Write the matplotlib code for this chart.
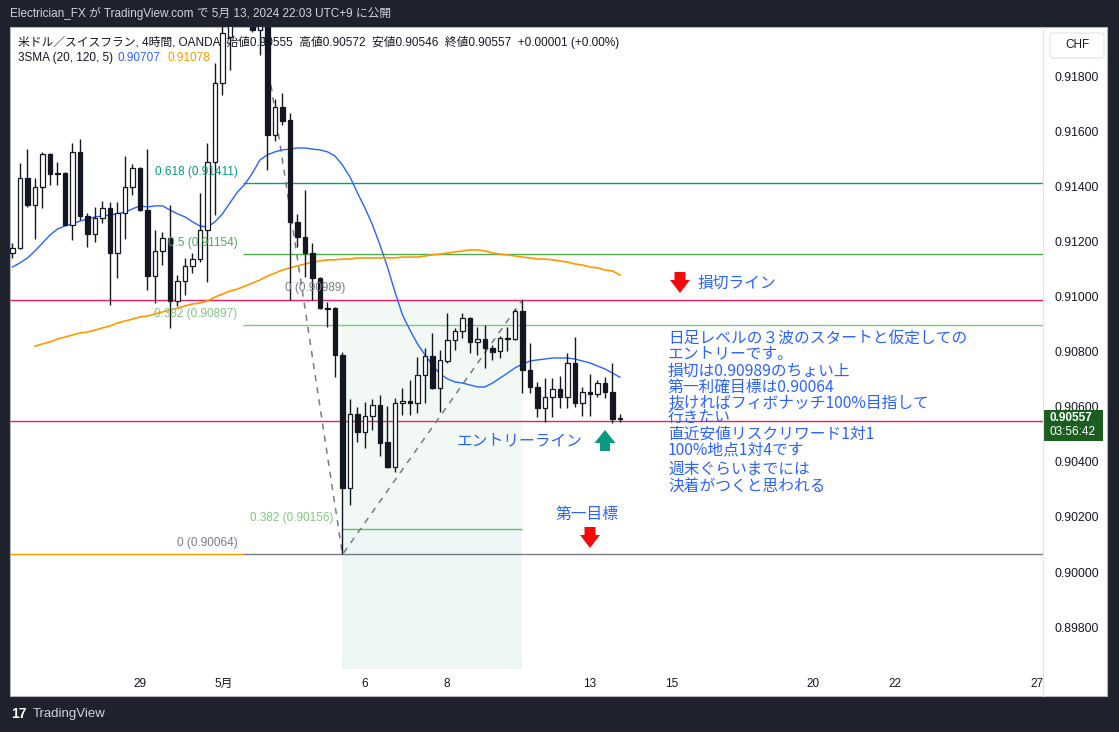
import numpy as np
import matplotlib.pyplot as plt
from matplotlib.patches import Rectangle, Polygon, FancyBboxPatch

plt.rcParams['font.family'] = ['Liberation Sans', 'Noto Sans CJK JP']
JP = ['Noto Sans CJK JP', 'Liberation Sans']

W, H = 1119, 732

# USD/CHF 4H candles
opens = [0.91158, 0.91176, 0.91430, 0.91332, 0.91398, 0.91517, 0.91448, 0.91448, 0.91260, 0.91525,
         0.91292, 0.91227, 0.91285, 0.91321, 0.91158, 0.91303, 0.91398, 0.91467, 0.91314, 0.91074,
         0.91165, 0.91212, 0.90984, 0.91056, 0.91111, 0.91136, 0.91241, 0.91488, 0.91775, 0.91942,
         0.92030, 0.92085, 0.92047, 0.91967, 0.92011, 0.91586, 0.91688, 0.91641, 0.91271, 0.91216,
         0.91158, 0.91067, 0.90958, 0.90958, 0.90788, 0.90305, 0.90574, 0.90508, 0.90566, 0.90606,
         0.90472, 0.90381, 0.90613, 0.90621, 0.90613, 0.90715, 0.90784, 0.90668, 0.90766, 0.90842,
         0.90875, 0.90922, 0.90835, 0.90846, 0.90813, 0.90802, 0.90849, 0.90846, 0.90947, 0.90733,
         0.90672, 0.90595, 0.90635, 0.90664, 0.90635, 0.90759, 0.90613, 0.90653, 0.90646, 0.90686,
         0.90653, 0.90555]
highs = [0.91194, 0.91485, 0.91535, 0.91430, 0.91525, 0.91521, 0.91488, 0.91452, 0.91557, 0.91572,
         0.91303, 0.91325, 0.91347, 0.91343, 0.91343, 0.91510, 0.91481, 0.91470, 0.91535, 0.91241,
         0.91234, 0.91332, 0.91078, 0.91140, 0.91158, 0.91376, 0.91557, 0.91848, 0.92004, 0.92058,
         0.92110, 0.92120, 0.92069, 0.92033, 0.92022, 0.91717, 0.91739, 0.91666, 0.91300, 0.91387,
         0.91194, 0.91070, 0.90980, 0.90962, 0.90799, 0.90628, 0.90599, 0.90617, 0.90628, 0.90643,
         0.90603, 0.90632, 0.90668, 0.90697, 0.90780, 0.90813, 0.90868, 0.90806, 0.90940, 0.90886,
         0.90940, 0.90926, 0.90889, 0.90897, 0.90824, 0.90857, 0.90889, 0.90955, 0.90989, 0.90831,
         0.90690, 0.90704, 0.90704, 0.90711, 0.90795, 0.90853, 0.90672, 0.90719, 0.90697, 0.90708,
         0.90759, 0.90572]
lows = [0.91140, 0.91172, 0.91325, 0.91209, 0.91321, 0.91405, 0.91405, 0.91258, 0.91205, 0.91278,
        0.91180, 0.91198, 0.91267, 0.90969, 0.91067, 0.91209, 0.91369, 0.91310, 0.91024, 0.90976,
        0.91114, 0.90886, 0.90966, 0.91006, 0.91085, 0.91125, 0.91053, 0.91296, 0.91732, 0.91822,
        0.92000, 0.92010, 0.91960, 0.91877, 0.91459, 0.91565, 0.91623, 0.90987, 0.91180, 0.91071,
        0.90987, 0.90955, 0.90889, 0.90708, 0.90064, 0.90243, 0.90472, 0.90450, 0.90515, 0.90421,
        0.90379, 0.90363, 0.90570, 0.90570, 0.90577, 0.90613, 0.90665, 0.90581, 0.90759, 0.90806,
        0.90849, 0.90795, 0.90788, 0.90741, 0.90770, 0.90777, 0.90802, 0.90842, 0.90650, 0.90650,
        0.90563, 0.90545, 0.90563, 0.90595, 0.90595, 0.90599, 0.90566, 0.90566, 0.90635, 0.90632,
        0.90541, 0.90546]
closes = [0.91176, 0.91430, 0.91332, 0.91398, 0.91517, 0.91445, 0.91445, 0.91260, 0.91525, 0.91292,
          0.91227, 0.91285, 0.91321, 0.91158, 0.91303, 0.91398, 0.91467, 0.91314, 0.91074, 0.91165,
          0.91212, 0.90984, 0.91056, 0.91111, 0.91136, 0.91241, 0.91488, 0.91775, 0.91957, 0.92022,
          0.92085, 0.92050, 0.91967, 0.92011, 0.91586, 0.91688, 0.91637, 0.91271, 0.91216, 0.91158,
          0.91067, 0.90958, 0.90955, 0.90788, 0.90305, 0.90574, 0.90508, 0.90566, 0.90606, 0.90468,
          0.90381, 0.90613, 0.90621, 0.90613, 0.90715, 0.90784, 0.90668, 0.90770, 0.90842, 0.90875,
          0.90922, 0.90835, 0.90846, 0.90813, 0.90799, 0.90849, 0.90846, 0.90947, 0.90733, 0.90672,
          0.90595, 0.90635, 0.90664, 0.90635, 0.90759, 0.90613, 0.90653, 0.90646, 0.90686, 0.90653,
          0.90555, 0.90557]

# SMA 20 (blue) for every candle, SMA 120 (orange) from candle 3 on
sma20 = [0.91107, 0.91122, 0.91140, 0.91165, 0.91194, 0.91223, 0.91245, 0.91256, 0.91263, 0.91274,
         0.91281, 0.91289, 0.91292, 0.91296, 0.91300, 0.91307, 0.91318, 0.91329, 0.91325, 0.91329,
         0.91329, 0.91314, 0.91300, 0.91289, 0.91271, 0.91256, 0.91252, 0.91271, 0.91300, 0.91340,
         0.91379, 0.91408, 0.91448, 0.91496, 0.91514, 0.91525, 0.91532, 0.91535, 0.91539, 0.91539,
         0.91535, 0.91532, 0.91525, 0.91510, 0.91477, 0.91434, 0.91376, 0.91321, 0.91260, 0.91187,
         0.91107, 0.91016, 0.90933, 0.90878, 0.90828, 0.90788, 0.90751, 0.90719, 0.90701, 0.90690,
         0.90686, 0.90679, 0.90672, 0.90672, 0.90686, 0.90704, 0.90722, 0.90741, 0.90755, 0.90766,
         0.90770, 0.90773, 0.90777, 0.90777, 0.90777, 0.90773, 0.90766, 0.90759, 0.90748, 0.90737,
         0.90722, 0.90707]
sma120_start = 3
sma120 = [0.90820, 0.90828, 0.90835, 0.90846, 0.90853, 0.90860, 0.90868, 0.90871, 0.90878, 0.90886,
          0.90893, 0.90904, 0.90911, 0.90918, 0.90926, 0.90929, 0.90937, 0.90944, 0.90951, 0.90958,
          0.90966, 0.90973, 0.90976, 0.90984, 0.90998, 0.91009, 0.91020, 0.91027, 0.91038, 0.91049,
          0.91060, 0.91074, 0.91085, 0.91096, 0.91104, 0.91111, 0.91118, 0.91125, 0.91129, 0.91133,
          0.91133, 0.91136, 0.91136, 0.91140, 0.91140, 0.91140, 0.91140, 0.91140, 0.91140, 0.91143,
          0.91143, 0.91143, 0.91147, 0.91151, 0.91154, 0.91158, 0.91162, 0.91165, 0.91169, 0.91169,
          0.91165, 0.91158, 0.91154, 0.91151, 0.91147, 0.91143, 0.91140, 0.91136, 0.91136, 0.91133,
          0.91129, 0.91125, 0.91118, 0.91114, 0.91107, 0.91104, 0.91096, 0.91093, 0.91078]

# fibonacci levels / user lines
fib1_levels = [0.91411, 0.91154, 0.90897]
fib1_labels = ['0.618 (0.91411)', '0.5 (0.91154)', '0.382 (0.90897)']
fib1_colors = ['#089981', '#4caf50', '#81c784']
fib1_x0 = 30.7
fib2_x = [44, 68]
stop_line = 0.90989
entry_line = 0.90548
target_line = 0.90064
fib2_382 = 0.90156
fib2_618 = 0.89642
swing_a = [33.0, 0.92030]
swing_b = [44.0, 0.90064]
swing_c = [68.0, 0.90989]

price_ticks = [0.898, 0.900, 0.902, 0.904, 0.906, 0.908, 0.910, 0.912, 0.914, 0.916, 0.918]
date_ticks = [17.0, 28.1, 47.0, 57.9, 77.0, 87.9, 106.7, 117.7, 136.6]
date_labels = ['29', '5月', '6', '8', '13', '15', '20', '22', '27']

notes = ['日足レベルの３波のスタートと仮定しての', 'エントリーです。', '損切は0.90989のちょい上',
         '第一利確目標は0.90064', '抜ければフィボナッチ100%目指して', '行きたい',
         '直近安値リスクリワード1対1', '100%地点1対4です', '週末ぐらいまでには', '決着がつくと思われる']
note_y = [339, 355, 371, 387, 403, 418, 434, 450, 469, 486]


def fx(x):
    return x / W


def fy(y):
    return 1 - y / H


fig = plt.figure(figsize=(W / 100, H / 100), dpi=100, facecolor='#1e222d')
fig.add_artist(Rectangle((fx(10), fy(696)), fx(1107) - fx(10), fy(27) - fy(696),
                         transform=fig.transFigure, facecolor='white', edgecolor='#b2b5be',
                         lw=0.8, zorder=-2))

ax = fig.add_axes([fx(10), fy(668), fx(1043) - fx(10), fy(27) - fy(668)])
ax.set_facecolor('none')
xmin, xmax = -0.33, 137.4
ax.set_xlim(xmin, xmax)
ax.set_ylim(0.89652, 0.91978)
for s in ax.spines.values():
    s.set_visible(False)

x = np.arange(len(opens))
o = np.array(opens); c = np.array(closes)
up = c >= o

# shaded fib zone
ax.fill_between(fib2_x, fib2_382, stop_line, color='#f2f9f4', lw=0, zorder=0)
ax.fill_between(fib2_x, fib2_618 - 0.001, fib2_382, color='#ecf6f4', lw=0, zorder=0)

# horizontal levels
for lv, col in zip(fib1_levels, fib1_colors):
    ax.hlines(lv, fib1_x0, xmax, color=col, lw=1, zorder=1)
ax.hlines(target_line, fib1_x0, xmax, color='#787b86', lw=1, zorder=1)
ax.hlines(target_line, xmin, fib1_x0, color='#ff9800', lw=1, zorder=1)
ax.hlines([stop_line, entry_line], xmin, xmax, color='#e91e63', lw=1, zorder=1)
ax.hlines(fib2_382, fib2_x[0], fib2_x[1], color='#66bb6a', lw=1, zorder=1)

# swing dashed lines
ax.plot([swing_a[0], swing_b[0], swing_c[0]], [swing_a[1], swing_b[1], swing_c[1]],
        ls=(0, (4, 4)), color='#787b86', lw=1.1, zorder=2)

# moving averages
ax.plot(x, sma20, color='#2962ff', lw=1, zorder=2)
ax.plot(x[sma120_start:], sma120, color='#ff9800', lw=1.2, zorder=2)

# candles
ax.vlines(x, lows, highs, color='#131722', lw=1, zorder=3)
body_h = np.maximum(np.abs(c - o), 0.00003)
ax.bar(x, body_h, bottom=np.minimum(o, c), width=0.66,
       color=np.where(up, 'white', '#131722'), edgecolor='#131722', linewidth=0.9, zorder=4)

# fib labels
def flabel(txt, xpos, lv, col, dx_px, dy_px=-11):
    ax.annotate(txt, xy=(xpos, lv), xytext=(dx_px * 0.72, -dy_px * 0.72),
                textcoords='offset points', ha='right', va='center',
                fontsize=8.5, color=col, zorder=5)

for lv, lab, col in zip(fib1_levels, fib1_labels, fib1_colors):
    flabel(lab, fib1_x0, lv, col, -5)
flabel('0 (0.90989)', fib2_x[0], stop_line, '#787b86', 3, -12)
flabel('0 (0.90064)', fib1_x0, target_line, '#787b86', -5)
flabel('0.382 (0.90156)', fib2_x[0], fib2_382, '#81c784', -9)
flabel('0.618 (0.89642)', fib2_x[0], fib2_618, '#089981', -9)

# axes ticks
ax.yaxis.tick_right()
ax.set_yticks(price_ticks)
ax.set_yticklabels([f'{v:.5f}' for v in price_ticks])
ax.tick_params(axis='y', length=0, pad=8.6, labelsize=8.7, labelcolor='#131722')
ax.set_xticks(date_ticks)
ax.set_xticklabels(date_labels)
ax.tick_params(axis='x', length=0, pad=7, labelsize=8.5, labelcolor='#131722')

# separators
fig.add_artist(plt.Line2D([fx(1043), fx(1043)], [fy(27), fy(696)], color='#e0e3eb', lw=0.8))

# header
fig.text(fx(10), fy(14), 'Electrician_FX が TradingView.com で 5月 13, 2024 22:03 UTC+9 に公開',
         color='#d1d4dc', fontsize=8.5, va='center')
fig.text(fx(18), fy(42), '米ドル／スイスフラン, 4時間, OANDA  始値0.90555  高値0.90572  安値0.90546  '
         '終値0.90557  +0.00001 (+0.00%)', color='#131722', fontsize=8.5, va='center', zorder=6)
fig.text(fx(18), fy(58), '3SMA (20, 120, 5)', color='#131722', fontsize=8.5, va='center')
fig.text(fx(118), fy(58), '0.90707', color='#2962ff', fontsize=8.5, va='center')
fig.text(fx(168), fy(58), '0.91078', color='#ff9800', fontsize=8.5, va='center')

# CHF box
fig.add_artist(FancyBboxPatch((fx(1050), fy(58)), fx(54), 25 / H,
                              boxstyle='round,pad=0,rounding_size=0.003',
                              transform=fig.transFigure, facecolor='white',
                              edgecolor='#e0e3eb', lw=0.8))
fig.text(fx(1077), fy(45), 'CHF', color='#131722', fontsize=8.5, ha='center', va='center')

# last price label
fig.add_artist(Rectangle((fx(1044), fy(441)), fx(59), 31 / H, transform=fig.transFigure,
                         facecolor='#1b5e20', edgecolor='none'))
fig.text(fx(1049), fy(418), '0.90557', color='white', fontsize=8.5, fontweight='bold', va='center')
fig.text(fx(1049), fy(432), '03:56:42', color='white', fontsize=8.5, va='center')


def block_arrow(xc, y_tail, y_tip, color, shaft=5.5, head=10, head_len=13):
    d = 1 if y_tip > y_tail else -1
    yb = y_tip - d * head_len
    pts = [(xc - shaft, y_tail), (xc + shaft, y_tail), (xc + shaft, yb), (xc + head, yb),
           (xc, y_tip), (xc - head, yb), (xc - shaft, yb)]
    fig.add_artist(Polygon([(fx(a), fy(b)) for a, b in pts], closed=True,
                           transform=fig.transFigure, facecolor=color, edgecolor='none'))


blue = '#2962ff'
block_arrow(680, 272, 293, '#f50a0a')
fig.text(fx(698), fy(283), '損切ライン', color=blue, fontsize=11.3, va='center', family=JP)
for line, yy in zip(notes, note_y):
    fig.text(fx(668), fy(yy), line, color=blue, fontsize=11.3, va='center', family=JP)
fig.text(fx(457), fy(441), 'エントリーライン', color=blue, fontsize=11.3, va='center', family=JP)
block_arrow(605, 451, 430, '#089981', shaft=5, head=10.5, head_len=13)
fig.text(fx(555), fy(514), '第一目標', color=blue, fontsize=11.3, va='center', family=JP)
block_arrow(590, 527, 548, '#f50a0a')

# footer logo
fig.text(fx(11), fy(714), '17', color='white', fontsize=10, fontweight='bold', va='center')
fig.text(fx(33), fy(714), 'TradingView', color='#d1d4dc', fontsize=9.5, va='center')

fig.savefig('out.png', dpi=100, facecolor=fig.get_facecolor())
